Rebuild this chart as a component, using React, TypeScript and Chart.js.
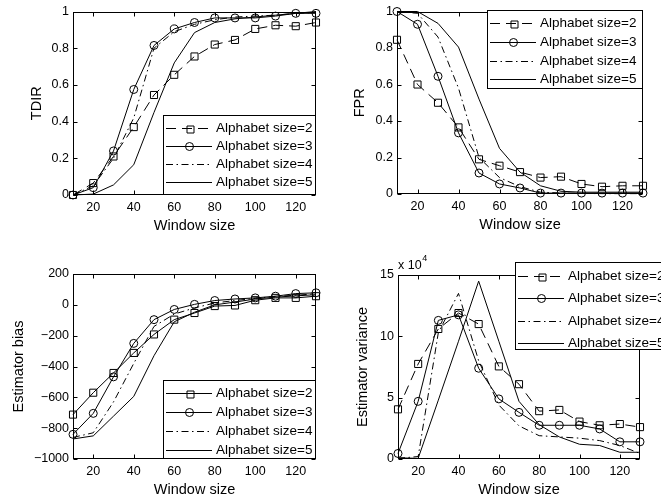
import React, { useEffect, useRef } from 'react';
import { Chart, registerables } from 'chart.js';

Chart.register(...registerables);

// ---------------- data ----------------
const windowSize = [10, 20, 30, 40, 50, 60, 70, 80, 90, 100, 110, 120, 130];
const seriesLabels = ['Alphabet size=2', 'Alphabet size=3', 'Alphabet size=4', 'Alphabet size=5'];
const xTicks = [20, 40, 60, 80, 100, 120];
const xTitle = 'Window size';

const tdirA2 = [0.0, 0.065, 0.21, 0.37, 0.545, 0.655, 0.755, 0.82, 0.845, 0.905, 0.925, 0.92, 0.94];
const tdirA3 = [0.0, 0.04, 0.24, 0.575, 0.815, 0.905, 0.94, 0.965, 0.965, 0.965, 0.975, 0.99, 0.99];
const tdirA4 = [0.0, 0.05, 0.2, 0.42, 0.8, 0.89, 0.93, 0.955, 0.97, 0.975, 0.98, 0.99, 0.995];
const tdirA5 = [0.0, 0.005, 0.055, 0.165, 0.45, 0.72, 0.885, 0.94, 0.96, 0.97, 0.98, 0.99, 1.0];

const fprA2 = [0.845, 0.6, 0.5, 0.365, 0.19, 0.155, 0.12, 0.09, 0.095, 0.055, 0.04, 0.045, 0.045];
const fprA3 = [1.0, 0.93, 0.645, 0.335, 0.115, 0.055, 0.033, 0.005, 0.005, 0.005, 0.005, 0.005, 0.005];
const fprA4 = [1.0, 0.99, 0.86, 0.58, 0.2, 0.09, 0.04, 0.01, 0.005, 0.003, 0.002, 0.002, 0.002];
const fprA5 = [1.0, 1.0, 0.935, 0.805, 0.52, 0.25, 0.12, 0.045, 0.015, 0.01, 0.01, 0.01, 0.01];

const biasA2 = [-712, -570, -442, -312, -192, -96, -53, -8, -4, 30, 45, 45, 56];
const biasA3 = [-840, -704, -467, -250, -96, -30, 3, 28, 38, 45, 56, 73, 78];
const biasA4 = [-860, -830, -630, -380, -140, -60, -20, 12, 28, 42, 55, 62, 72];
const biasA5 = [-870, -850, -722, -594, -330, -110, -48, 0, 18, 38, 50, 58, 66];

// estimator variance, in units of 10^4
const varA2 = [4.05, 7.75, 10.6, 11.9, 11.0, 7.55, 6.1, 3.9, 4.0, 3.05, 2.75, 2.85, 2.6];
const varA3 = [0.45, 4.7, 11.3, 11.75, 7.4, 4.9, 3.8, 2.75, 2.75, 2.75, 2.45, 1.4, 1.4];
const varA4 = [0.05, 0.2, 10.3, 13.5, 8.0, 4.4, 2.7, 1.9, 1.8, 1.7, 1.5, 1.1, 0.45];
const varA5 = [0.1, 0.05, 4.8, 9.6, 14.5, 9.6, 4.7, 2.8, 1.8, 1.2, 1.1, 0.55, 0.55];

const rateTicks = [0, 0.2, 0.4, 0.6, 0.8, 1];
const biasTicks = [-1000, -800, -600, -400, -200, 0, 200];
const varianceTicks = [0, 5, 10, 15];
const varianceExponent = '4';

// ---------------- styling ----------------
const FONT = '"Liberation Sans", Arial, Helvetica, sans-serif';
const TICK_SIZE = 12.5;
const TITLE_SIZE = 14.5;
const LEGEND_SIZE = 13.5;
const DASH = [10, 6];
const DASHDOT = [7, 3.5, 1.5, 3.5];

type SeriesStyle = { dash: number[]; marker: 'rect' | 'circle' | null };

type Panel = {
  left: number; top: number; width: number; height: number;
  area: { l: number; r: number; t: number; b: number };
  series: number[][];
  styles: SeriesStyle[];
  yMin: number; yMax: number; yTicks: number[];
  yFormat: (v: number) => string;
  yTitle: string; yTitleDx: number;
  legend: { x: number; y: number; w: number; h: number; first: number; gap: number };
  exponent?: string;
};

const fmtPlain = (v: number) => String(v);
const fmtMinus = (v: number) => (v < 0 ? '\u2212' + Math.abs(v) : String(v));

const topStyles: SeriesStyle[] = [
  { dash: DASH, marker: 'rect' },
  { dash: [], marker: 'circle' },
  { dash: DASHDOT, marker: null },
  { dash: [], marker: null },
];
const biasStyles: SeriesStyle[] = [
  { dash: [], marker: 'rect' },
  { dash: [], marker: 'circle' },
  { dash: DASHDOT, marker: null },
  { dash: [], marker: null },
];

const panels: Panel[] = [
  {
    left: 0, top: 0, width: 330, height: 250,
    area: { l: 73, r: 316, t: 11, b: 195 },
    series: [tdirA2, tdirA3, tdirA4, tdirA5], styles: topStyles,
    yMin: 0, yMax: 1, yTicks: rateTicks, yFormat: fmtPlain,
    yTitle: 'TDIR', yTitleDx: -36,
    legend: { x: 163, y: 115, w: 153, h: 80, first: 13, gap: 18 },
  },
  {
    left: 330, top: 0, width: 331, height: 250,
    area: { l: 67, r: 313, t: 10, b: 194 },
    series: [fprA2, fprA3, fprA4, fprA5], styles: topStyles,
    yMin: 0, yMax: 1, yTicks: rateTicks, yFormat: fmtPlain,
    yTitle: 'FPR', yTitleDx: -37,
    legend: { x: 157, y: 10, w: 156, h: 79, first: 13.3, gap: 18.6 },
  },
  {
    left: 0, top: 250, width: 330, height: 252,
    area: { l: 73, r: 316, t: 24, b: 209 },
    series: [biasA2, biasA3, biasA4, biasA5], styles: biasStyles,
    yMin: -1000, yMax: 200, yTicks: biasTicks, yFormat: fmtMinus,
    yTitle: 'Estimator bias', yTitleDx: -54,
    legend: { x: 163, y: 130, w: 153, h: 79, first: 12.7, gap: 19 },
  },
  {
    left: 330, top: 250, width: 331, height: 252,
    area: { l: 68, r: 310, t: 25, b: 209 },
    series: [varA2, varA3, varA4, varA5], styles: topStyles,
    yMin: 0, yMax: 15, yTicks: varianceTicks, yFormat: fmtPlain,
    yTitle: 'Estimator variance', yTitleDx: -35,
    legend: { x: 185, y: 12, w: 170, h: 88, first: 13.5, gap: 22.5 },
    exponent: varianceExponent,
  },
];

function drawMarker(ctx: CanvasRenderingContext2D, kind: 'rect' | 'circle', x: number, y: number) {
  ctx.save();
  ctx.setLineDash([]);
  ctx.lineWidth = 1;
  ctx.strokeStyle = '#000';
  ctx.beginPath();
  if (kind === 'rect') {
    ctx.rect(Math.round(x) - 3, Math.round(y) - 3, 7, 7);
  } else {
    ctx.arc(x, y, 4, 0, Math.PI * 2);
  }
  ctx.stroke();
  ctx.restore();
}

function makePlugin(p: Panel) {
  return {
    id: 'matlabAxes',
    afterDraw(chart: any) {
      const ctx: CanvasRenderingContext2D = chart.ctx;
      const a = chart.chartArea;
      const xs = chart.scales.x;
      const ys = chart.scales.y;
      ctx.save();
      ctx.strokeStyle = '#000';
      ctx.fillStyle = '#000';
      ctx.lineWidth = 1;
      ctx.setLineDash([]);
      const L = Math.round(a.left) + 0.5;
      const R = Math.round(a.right) - 0.5;
      const T = Math.round(a.top) + 0.5;
      const B = Math.round(a.bottom) - 0.5;
      ctx.strokeRect(L, T, R - L, B - T);
      const tl = 4;
      ctx.beginPath();
      for (const v of xTicks) {
        const px = Math.round(xs.getPixelForValue(v)) + 0.5;
        ctx.moveTo(px, B); ctx.lineTo(px, B - tl);
        ctx.moveTo(px, T); ctx.lineTo(px, T + tl);
      }
      for (const t of ys.ticks) {
        const py = Math.round(ys.getPixelForValue(t.value)) + 0.5;
        ctx.moveTo(L, py); ctx.lineTo(L + tl, py);
        ctx.moveTo(R, py); ctx.lineTo(R - tl, py);
      }
      ctx.stroke();

      // axis titles
      ctx.font = `${TITLE_SIZE}px ${FONT}`;
      ctx.textAlign = 'center';
      ctx.textBaseline = 'middle';
      ctx.fillText(xTitle, (a.left + a.right) / 2, a.bottom + 31);
      ctx.save();
      ctx.translate(a.left + p.yTitleDx, (a.top + a.bottom) / 2);
      ctx.rotate(-Math.PI / 2);
      ctx.fillText(p.yTitle, 0, 0);
      ctx.restore();

      // exponent label
      if (p.exponent) {
        ctx.textAlign = 'left';
        ctx.textBaseline = 'alphabetic';
        ctx.font = `${TICK_SIZE}px ${FONT}`;
        const base = 'x 10';
        ctx.fillText(base, a.left, a.top - 6);
        const w = ctx.measureText(base).width;
        ctx.font = `9px ${FONT}`;
        ctx.fillText(p.exponent, a.left + w + 0.5, a.top - 14);
      }

      // legend
      const lg = p.legend;
      ctx.fillStyle = '#fff';
      ctx.fillRect(lg.x, lg.y, lg.w, lg.h);
      ctx.strokeStyle = '#000';
      ctx.strokeRect(lg.x + 0.5, lg.y + 0.5, lg.w - 1, lg.h - 1);
      ctx.font = `${LEGEND_SIZE}px ${FONT}`;
      ctx.textAlign = 'left';
      ctx.textBaseline = 'middle';
      chart.data.datasets.forEach((ds: any, i: number) => {
        const st = p.styles[i];
        const y = Math.round(lg.y + lg.first + i * lg.gap) + 0.5;
        ctx.save();
        ctx.strokeStyle = '#000';
        ctx.lineWidth = 1;
        ctx.setLineDash(st.dash);
        ctx.beginPath();
        ctx.moveTo(lg.x + 3, y);
        ctx.lineTo(lg.x + 49, y);
        ctx.stroke();
        ctx.restore();
        if (st.marker) drawMarker(ctx, st.marker, lg.x + 26.5, y);
        ctx.fillStyle = '#000';
        ctx.fillText(ds.label, lg.x + 53, y);
      });
      ctx.restore();
    },
  };
}

function PanelChart({ p }: { p: Panel }) {
  const ref = useRef<HTMLCanvasElement | null>(null);
  useEffect(() => {
    if (!ref.current) return;
    const datasets = p.series.map((vals, i) => {
      const st = p.styles[i];
      return {
        label: seriesLabels[i],
        data: windowSize.map((x, j) => ({ x, y: vals[j] })),
        borderColor: '#000',
        backgroundColor: 'rgba(0,0,0,0)',
        borderWidth: 1,
        borderDash: st.dash,
        pointStyle: st.marker || 'circle',
        pointRadius: st.marker === 'rect' ? 5 : st.marker === 'circle' ? 4 : 0,
        pointBorderColor: '#000',
        pointBackgroundColor: 'rgba(0,0,0,0)',
        pointBorderWidth: 1,
        tension: 0,
        fill: false,
        clip: false,
      };
    });
    const chart = new Chart(ref.current, {
      type: 'line',
      data: { datasets },
      options: {
        animation: false,
        responsive: false,
        devicePixelRatio: 1,
        events: [],
        layout: { padding: { left: 0, top: p.area.t, right: p.width - p.area.r, bottom: 0 } },
        plugins: { legend: { display: false }, tooltip: { enabled: false }, title: { display: false } },
        scales: {
          x: {
            type: 'linear',
            min: 10,
            max: 130,
            afterBuildTicks: (s: any) => { s.ticks = xTicks.map((v) => ({ value: v })); },
            afterFit: (s: any) => { s.height = p.height - p.area.b; },
            grid: { display: false, drawTicks: false },
            border: { display: false },
            ticks: {
              autoSkip: false, maxRotation: 0, padding: 5, color: '#000',
              font: { family: FONT, size: TICK_SIZE },
              callback: (v: any) => String(v),
            },
          },
          y: {
            type: 'linear',
            min: p.yMin,
            max: p.yMax,
            afterBuildTicks: (s: any) => { s.ticks = p.yTicks.map((v) => ({ value: v })); },
            afterFit: (s: any) => { s.width = p.area.l; },
            grid: { display: false, drawTicks: false },
            border: { display: false },
            ticks: {
              autoSkip: false, padding: 4, color: '#000',
              font: { family: FONT, size: TICK_SIZE },
              callback: (v: any) => p.yFormat(Number(v)),
            },
          },
        },
      } as any,
      plugins: [makePlugin(p)],
    });
    return () => chart.destroy();
  }, [p]);
  return (
    <canvas
      ref={ref}
      width={p.width}
      height={p.height}
      style={{ position: 'absolute', left: p.left, top: p.top, width: p.width, height: p.height, display: 'block' }}
    />
  );
}

export default function App() {
  return (
    <div style={{ position: 'absolute', left: 0, top: 0, width: 661, height: 502, background: '#fff', overflow: 'hidden' }}>
      {panels.map((p, i) => (
        <PanelChart key={i} p={p} />
      ))}
    </div>
  );
}
